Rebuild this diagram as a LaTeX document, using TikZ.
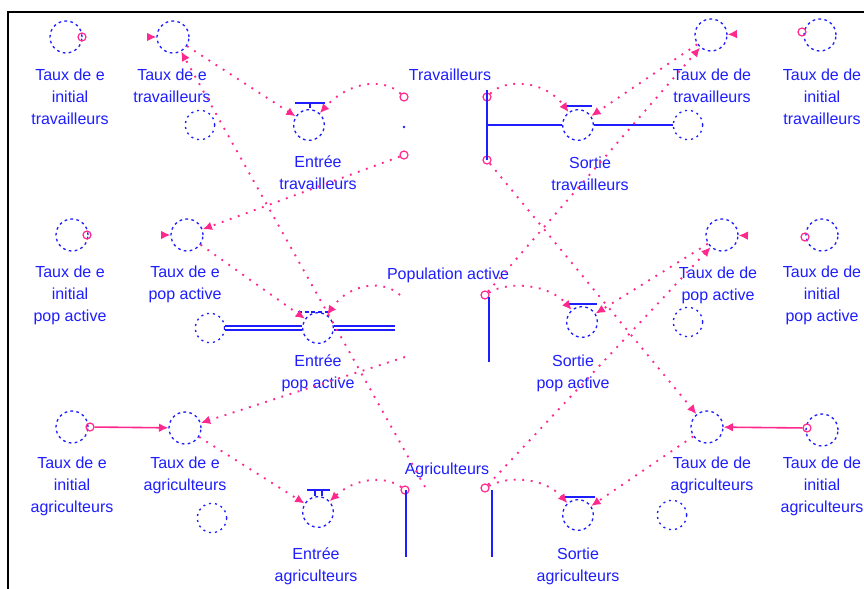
\documentclass[tikz,border=0pt]{standalone}
\usepackage{fontspec}
\setmainfont{Liberation Sans}
\usetikzlibrary{arrows.meta}
\definecolor{vblue}{RGB}{30,30,255}
\definecolor{vpink}{RGB}{255,40,140}
\begin{document}
\begin{tikzpicture}[x=0.75pt,y=-0.75pt,
 aux/.style={circle,draw=vblue,line width=1pt,dash pattern=on 2pt off 2.5pt,minimum size=24pt,inner sep=0pt},
 cloud/.style={aux,minimum size=22pt,dash pattern=on 1.5pt off 3pt},
 valve/.style={aux,minimum size=23pt},
 lab/.style={text=vblue,font=\fontsize{12}{16.5}\selectfont,align=center,inner sep=0pt},
 pc/.style={circle,draw=vpink,line width=0.9pt,minimum size=6pt,inner sep=0pt},
 lnk/.style={draw=vpink,line width=1.4pt,dash pattern=on 1.4pt off 5pt,-{Latex[length=7pt,width=6.5pt]}},
 solidlnk/.style={draw=vpink,line width=1.2pt,-{Latex[length=7pt,width=6.5pt]}},
 tiponly/.style={draw=vpink,line width=1.1pt,dash pattern=on 0pt off 800pt,-{Latex[length=7pt,width=6.5pt]}},
 pipe/.style={draw=vblue,line width=1.4pt},
 dpipe/.style={draw=vblue,line width=1.3pt,double=white,double distance=1.4pt},
 bar/.style={draw=vblue,line width=1.3pt}]
\useasboundingbox (0,0) rectangle (864,589);
\fill[white] (0,0) rectangle (864,589);
\draw[line width=1.5pt] (8,589) -- (8,12) -- (864,12);

% ---- auxiliaries, row 1
\node[aux] (tei-tr) at (66,37) {};
\node[lab] (L-tei-tr) at (70,97) {Taux de e\\initial\\travailleurs};
\node[aux] (te-tr) at (173,37) {};
\node[lab] (L-te-tr) at (172,86) {Taux de e\\travailleurs};
\node[aux] (td-tr) at (711,35) {};
\node[lab] (L-td-tr) at (712,86) {Taux de de\\travailleurs};
\node[aux] (tdi-tr) at (820,35) {};
\node[lab] (L-tdi-tr) at (822,97) {Taux de de\\initial\\travailleurs};
% ---- row 2
\node[aux] (tei-pa) at (72,235) {};
\node[lab] (L-tei-pa) at (70,295) {Taux de e\\initial\\pop active};
\node[aux] (te-pa) at (187,235) {};
\node[lab] (L-te-pa) at (185,284) {Taux de e\\pop active};
\node[aux] (td-pa) at (722,235) {};
\node[lab] (L-td-pa) at (718,285) {Taux de de\\pop active};
\node[aux] (tdi-pa) at (822,235) {};
\node[lab] (L-tdi-pa) at (822,295) {Taux de de\\initial\\pop active};
% ---- row 3
\node[aux] (tei-ag) at (72,427) {};
\node[lab] (L-tei-ag) at (72,486) {Taux de e\\initial\\agriculteurs};
\node[aux] (te-ag) at (185,428) {};
\node[lab] (L-te-ag) at (185,475) {Taux de e\\agriculteurs};
\node[aux] (td-ag) at (707,427) {};
\node[lab] (L-td-ag) at (712,475) {Taux de de\\agriculteurs};
\node[aux] (tdi-ag) at (822,430) {};
\node[lab] (L-tdi-ag) at (822,486) {Taux de de\\initial\\agriculteurs};

% ---- valves
\node[valve] (etr) at (309,125) {};
\node[lab] (L-etr) at (318,172.5) {Entrée\\travailleurs};
\node[valve] (str) at (578,125) {};
\node[lab] (L-str) at (590,174) {Sortie\\travailleurs};
\node[valve] (epa) at (318,328) {};
\node[lab] (L-epa) at (318,373) {Entrée\\pop active};
\node[valve] (spa) at (582,322) {};
\node[lab] (L-spa) at (573,373) {Sortie\\pop active};
\node[valve] (eag) at (318,512) {};
\node[lab] (L-eag) at (316,566) {Entrée\\agriculteurs};
\node[valve] (sag) at (578,515) {};
\node[lab] (L-sag) at (578,566) {Sortie\\agriculteurs};
% valve bars
\draw[bar] (295,103) -- (325,103) (310,103) -- (310,108);
\draw[bar] (563,106) -- (592,106);
\draw[bar,dash pattern=on 3pt off 2pt] (298,312) -- (328,312);
\draw[bar] (567,304) -- (597,304);
\draw[bar] (307,490) -- (330,490) (315,490) -- (315,496) (322,490) -- (322,496);
\draw[bar] (563,497) -- (595,497);

% ---- clouds
\node[cloud] (cl1) at (200,125) {};
\node[cloud] (cl2) at (688,125) {};
\node[cloud] (cl3) at (210,328) {};
\node[cloud] (cl4) at (688,322) {};
\node[cloud] (cl5) at (212,518) {};
\node[cloud] (cl6) at (672,515) {};

% ---- stocks
\node[lab] (trav) at (450,75) {Travailleurs};
\node[lab] (popa) at (448,275) {Population active};
\node[lab] (agri) at (447,470) {Agriculteurs};

% ---- link tails
\node[pc] (trL1) at (404,97) {};
\node[pc] (trL2) at (404,155) {};
\node[pc] (trR1) at (487,97) {};
\node[pc] (trR2) at (487,160) {};
\node[pc] (paR) at (485,295) {};
\coordinate (paL) at (400,295);
\coordinate (paL2) at (405,357);
\node[pc] (agL) at (405,490) {};
\node[pc] (agR) at (485,488) {};
\coordinate (agM) at (425,487);
\node[pc] (p1) at (82,37) {};
\node[pc] (p2) at (87,235) {};
\node[pc] (p3) at (802,32) {};
\node[pc] (p4) at (805,237) {};
\node[pc] (p5) at (90,427) {};
\node[pc] (p6) at (807,428) {};
\fill[vblue] (404,127) circle (1.1pt);

% ---- pipes
\coordinate (trP1) at (487,90);
\coordinate (trP2) at (487,160);
\coordinate (trP3) at (487,125);
\draw[pipe] (trP1) -- (trP2);
\draw[pipe] (trP3) -- (str);
\draw[pipe] (str) -- (cl2);
\coordinate (paP1) at (395,328);
\draw[dpipe] (cl3) -- (epa);
\draw[dpipe] (epa) -- (paP1);
\coordinate (paP2) at (489,297);
\coordinate (paP3) at (489,362);
\draw[pipe] (paP2) -- (paP3);
\coordinate (agP1) at (406,490);
\coordinate (agP2) at (406,557);
\coordinate (agP3) at (492,490);
\coordinate (agP4) at (492,557);
\draw[pipe] (agP1) -- (agP2);
\draw[pipe] (agP3) -- (agP4);

% ---- links
\draw[tiponly] (p1) -- (te-tr);
\draw[tiponly] (p2) -- (te-pa);
\draw[tiponly] (p3) -- (td-tr);
\draw[tiponly] (p4) -- (td-pa);
\draw[solidlnk] (p5) -- (te-ag);
\draw[solidlnk] (p6) -- (td-ag);

\draw[lnk] (trL1) .. controls (385,78) and (350,80) .. (etr);
\draw[lnk] (trR1) .. controls (505,78) and (545,80) .. (str);
\draw[lnk] (te-tr) -- (etr);
\draw[lnk] (trL2) -- (te-pa);
\draw[lnk] (agM) -- (te-tr);
\draw[lnk] (trR2) -- (td-ag);
\draw[lnk] (td-tr) -- (str);
\draw[lnk] (paR) -- (td-tr);
\draw[lnk] (paL) .. controls (385,280) and (350,282) .. (epa);
\draw[lnk] (paR) .. controls (510,280) and (550,285) .. (spa);
\draw[lnk] (te-pa) -- (epa);
\draw[lnk] (td-pa) -- (spa);
\draw[lnk] (paL2) -- (te-ag);
\draw[lnk] (agR) -- (td-pa);
\draw[lnk] (te-ag) -- (eag);
\draw[lnk] (agL) .. controls (385,475) and (355,478) .. (eag);
\draw[lnk] (agR) .. controls (510,475) and (545,478) .. (sag);
\draw[lnk] (td-ag) -- (sag);
\end{tikzpicture}
\end{document}
